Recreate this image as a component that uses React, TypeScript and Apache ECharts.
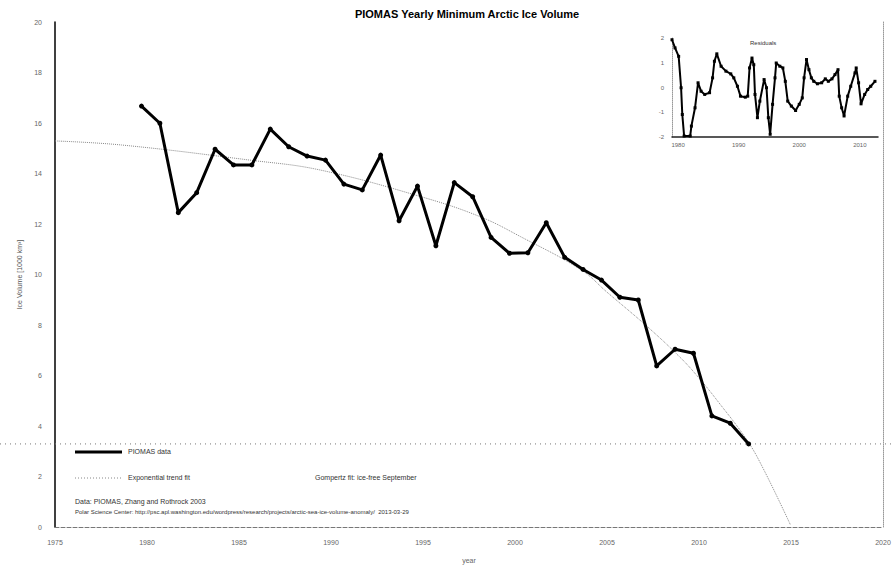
import React, { useEffect, useRef } from "react";
import * as echarts from "echarts";

// Main series: PIOMAS September minimum volume (1000 km^3)
const years = [
  1979, 1980, 1981, 1982, 1983, 1984, 1985, 1986, 1987, 1988, 1989, 1990,
  1991, 1992, 1993, 1994, 1995, 1996, 1997, 1998, 1999, 2000, 2001, 2002,
  2003, 2004, 2005, 2006, 2007, 2008, 2009, 2010, 2011, 2012,
];
const minVolume = [
  16.67, 15.99, 12.45, 13.24, 14.96, 14.34, 14.34, 15.76, 15.06, 14.69, 14.53,
  13.58, 13.35, 14.73, 12.13, 13.5, 11.14, 13.64, 13.08, 11.47, 10.84, 10.86,
  12.05, 10.68, 10.2, 9.78, 9.1, 8.99, 6.38, 7.04, 6.88, 4.4, 4.11, 3.29,
];
const minOffset = 0.7; // September minimum plotted at decimal year

// Trend (fit) curve
const fitYears = [1975, 1978.6, 1985.6, 1989.4, 1994.9, 1998.1, 2000.3, 2003.6, 2005, 2007.2, 2009, 2010, 2011, 2012.6, 2013.5, 2014.96];
const fitValues = [15.29, 15.13, 14.53, 14.14, 13.08, 12.29, 11.5, 10.18, 9.3, 7.93, 6.7, 5.9, 5.0, 3.45, 2.3, 0.1];

// Inset: residuals
const resYears = [
  1979.0, 1979.5, 1980.1, 1980.5, 1980.7, 1981.0, 1982.0, 1982.2, 1982.8, 1983.3,
  1983.8, 1984.4, 1985.2, 1985.7, 1986.0, 1986.4, 1987.1, 1987.9, 1988.7, 1989.2,
  1989.8, 1990.3, 1991.1, 1991.5, 1991.8, 1992.2, 1992.5, 1992.7, 1993.1, 1993.5,
  1994.2, 1994.6, 1994.9, 1995.2, 1995.6, 1996.0, 1996.2, 1996.8, 1997.3, 1997.7,
  1998.1, 1998.7, 1999.4, 2000.0, 2000.5, 2000.8, 2001.2, 2001.6, 2002.0, 2002.4,
  2003.0, 2003.7, 2004.3, 2004.8, 2005.4, 2005.9, 2006.4, 2006.6, 2007.0, 2007.4,
  2008.0, 2008.5, 2009.2, 2009.4, 2009.8, 2010.2, 2010.8, 2011.3, 2011.8, 2012.5,
];
const resValues = [
  1.93, 1.6, 1.26, -0.01, -1.09, -1.96, -1.96, -1.56, -0.82, 0.19,
  -0.15, -0.28, -0.21, 0.39, 1.06, 1.36, 0.86, 0.66, 0.55, 0.39,
  0.05, -0.35, -0.39, -0.35, 0.79, 1.19, 0.92, -0.28, -1.22, -0.55,
  0.32, -0.01, -1.22, -1.89, -0.68, 0.39, 0.99, 0.86, 0.79, 0.25,
  -0.55, -0.75, -0.93, -0.68, -0.42, 0.39, 1.13, 0.72, 0.39, 0.25,
  0.15, 0.19, 0.35, 0.25, 0.35, 0.52, 0.72, -0.35, -0.82, -1.15,
  -0.35, 0.05, 0.59, 0.79, 0.19, -0.66, -0.28, -0.08, 0.05, 0.25,
];
const insetXTicks = [1980, 1990, 2000, 2010];

const xTicks = [1975, 2020, 5];
const yTicks = [0, 20, 2];

const FONT = "'Liberation Sans', Arial, sans-serif";
const TXT = "#333";

export default function App() {
  const ref = useRef<HTMLDivElement>(null);
  useEffect(() => {
    if (!ref.current) return;
    const chart = echarts.init(ref.current, null, { renderer: "svg" });
    const mainData = years.map((y, i) => [y + minOffset, minVolume[i]]);
    const fitData = fitYears.map((y, i) => [y, fitValues[i]]);
    const resData = resYears.map((y, i) => [y, resValues[i]]);
    const yearFmt = (v: number) => String(v);
    const option: any = {
      animation: false,
      backgroundColor: "#fff",
      textStyle: { fontFamily: FONT },
      title: {
        text: "PIOMAS Yearly Minimum Arctic Ice Volume",
        left: 462,
        textAlign: "center",
        top: 3,
        textStyle: { fontSize: 11, fontWeight: "bold", color: "#000", fontFamily: FONT },
      },
      grid: [
        { left: 55, right: 12, top: 22, bottom: 44 },
        { left: 672, top: 38, width: 206, height: 99 },
      ],
      xAxis: [
        {
          type: "value",
          gridIndex: 0,
          min: xTicks[0],
          max: xTicks[1],
          interval: xTicks[2],
          name: "year",
          nameLocation: "middle",
          nameGap: 30,
          nameTextStyle: { fontSize: 7, color: "#666" },
          axisLine: { show: true, lineStyle: { color: "#777", type: "dashed", width: 1 } },
          axisTick: { show: false },
          splitLine: { show: false },
          axisLabel: { fontSize: 7, color: "#666", margin: 12, formatter: yearFmt },
        },
        {
          type: "value",
          gridIndex: 1,
          min: 1979,
          max: 2013,
          axisLine: { show: true, onZero: false, lineStyle: { color: "#222", width: 1.5 } },
          axisTick: { show: false },
          splitLine: { show: false },
          axisLabel: {
            fontSize: 6,
            color: "#666",
            margin: 5,
            customValues: insetXTicks,
            formatter: yearFmt,
          },
        },
      ],
      yAxis: [
        {
          type: "value",
          gridIndex: 0,
          min: yTicks[0],
          max: yTicks[1],
          interval: yTicks[2],
          name: "Ice Volume [1000 km³]",
          nameLocation: "middle",
          nameGap: 20,
          nameRotate: 90,
          nameTextStyle: { fontSize: 7, color: "#555" },
          axisLine: { show: true, lineStyle: { color: "#000", width: 1.5 } },
          axisTick: { show: false },
          splitLine: { show: false },
          axisLabel: { fontSize: 7, color: "#666", margin: 13 },
        },
        {
          type: "value",
          gridIndex: 0,
          position: "right",
          min: yTicks[0],
          max: yTicks[1],
          axisLine: { show: true, lineStyle: { color: "#999", type: "dotted", width: 1 } },
          axisTick: { show: false },
          axisLabel: { show: false },
          splitLine: { show: false },
        },
        {
          type: "value",
          gridIndex: 1,
          min: -2,
          max: 2,
          interval: 1,
          axisLine: { show: true, lineStyle: { color: "#999", type: "dotted", width: 1 } },
          axisTick: { show: false },
          splitLine: { show: false },
          axisLabel: { fontSize: 6, color: "#666", margin: 8 },
        },
      ],
      series: [
        {
          name: "Trend fit",
          type: "line",
          xAxisIndex: 0,
          yAxisIndex: 0,
          data: fitData,
          smooth: 0.4,
          showSymbol: false,
          lineStyle: { color: "#888", width: 1, type: "dotted" },
          z: 2,
        },
        {
          name: "PIOMAS data",
          type: "line",
          xAxisIndex: 0,
          yAxisIndex: 0,
          data: mainData,
          symbol: "circle",
          symbolSize: 5,
          itemStyle: { color: "#000" },
          lineStyle: { color: "#000", width: 3 },
          z: 3,
        },
        {
          name: "Residuals",
          type: "line",
          xAxisIndex: 1,
          yAxisIndex: 2,
          data: resData,
          symbol: "rect",
          symbolSize: 3,
          itemStyle: { color: "#000" },
          lineStyle: { color: "#000", width: 2 },
        },
      ],
      graphic: [
        { type: "text", left: 750, top: 40, style: { text: "Residuals", fontSize: 6, fill: TXT, fontFamily: FONT } },
        { type: "line", shape: { x1: 75, y1: 452, x2: 122, y2: 452 }, style: { stroke: "#000", lineWidth: 3 } },
        { type: "text", left: 128, top: 448, style: { text: "PIOMAS data", fontSize: 7, fill: TXT, fontFamily: FONT } },
        { type: "line", shape: { x1: 75, y1: 478, x2: 122, y2: 478 }, style: { stroke: "#888", lineWidth: 1, lineDash: [1, 2] } },
        { type: "text", left: 128, top: 474, style: { text: "Exponential trend fit", fontSize: 7, fill: TXT, fontFamily: FONT } },
        { type: "text", left: 315, top: 474, style: { text: "Gompertz fit: ice-free September", fontSize: 7, fill: TXT, fontFamily: FONT } },
        { type: "text", left: 75, top: 498, style: { text: "Data: PIOMAS, Zhang and Rothrock 2003", fontSize: 7, fill: TXT, fontFamily: FONT } },
        {
          type: "text",
          left: 75,
          top: 509,
          style: {
            text: "Polar Science Center: http://psc.apl.washington.edu/wordpress/research/projects/arctic-sea-ice-volume-anomaly/  2013-03-29",
            fontSize: 6,
            fill: TXT,
            fontFamily: FONT,
          },
        },
      ],
    };
    chart.setOption(option);
    // full-width dotted reference line at the 2012 record minimum
    const last = minVolume[minVolume.length - 1];
    const py = chart.convertToPixel({ gridIndex: 0 } as any, [xTicks[0], last]) as any;
    if (py) {
      chart.setOption({
        graphic: [
          ...option.graphic,
          { type: "line", shape: { x1: 0, y1: py[1], x2: 895, y2: py[1] }, style: { stroke: "#777", lineWidth: 1, lineDash: [1, 4] }, z: 1 },
        ],
      });
    }
    return () => chart.dispose();
  }, []);
  return <div ref={ref} style={{ width: 895, height: 571, position: "absolute", left: 0, top: 0 }} />;
}
